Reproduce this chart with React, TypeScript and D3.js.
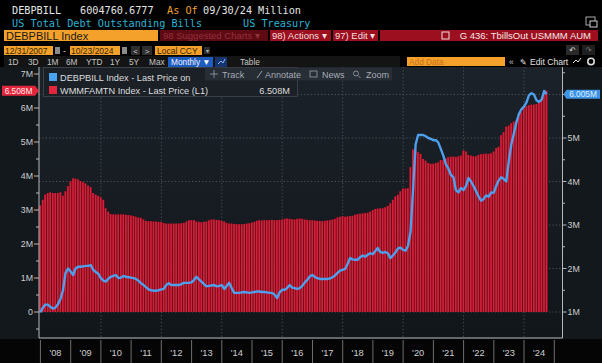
import React from "react";
import * as d3 from "d3";

// Monthly month-end values, Dec 2007 .. Sep 2024 (in millions, shown as M)
const billsOutstanding: number[] = [
  0.99,
  1.10, 1.17, 1.17, 1.12, 1.08, 1.10, 1.18, 1.30, 1.50, 1.90, 2.00, 1.93,
  1.85, 2.00, 2.04, 2.04, 2.05, 2.06, 2.06, 2.08, 1.97, 1.92, 1.88, 1.78,
  1.72, 1.70, 1.76, 1.81, 1.83, 1.85, 1.78, 1.79, 1.83, 1.81, 1.80, 1.79,
  1.78, 1.76, 1.72, 1.66, 1.62, 1.57, 1.52, 1.50, 1.49, 1.49, 1.50, 1.52,
  1.53, 1.62, 1.66, 1.62, 1.62, 1.62, 1.62, 1.64, 1.67, 1.67, 1.67, 1.68,
  1.74, 1.81, 1.75, 1.70, 1.64, 1.59, 1.60, 1.61, 1.62, 1.59, 1.60, 1.62,
  1.53, 1.60, 1.67, 1.55, 1.44, 1.44, 1.44, 1.45, 1.46, 1.45, 1.44, 1.45,
  1.46, 1.47, 1.47, 1.46, 1.46, 1.45, 1.44, 1.44, 1.40, 1.32, 1.45, 1.51,
  1.51, 1.55, 1.62, 1.56, 1.55, 1.53, 1.55, 1.60, 1.68, 1.74, 1.82, 1.85,
  1.80, 1.78, 1.76, 1.76, 1.76, 1.76, 1.77, 1.80, 1.84, 1.90, 1.95, 1.97,
  1.99, 2.10, 2.24, 2.21, 2.20, 2.20, 2.26, 2.30, 2.27, 2.32, 2.35, 2.33,
  2.40, 2.47, 2.38, 2.36, 2.38, 2.35, 2.24, 2.30, 2.37, 2.46, 2.48, 2.43,
  2.41, 2.52, 2.85, 3.80, 4.85, 5.07, 5.07, 5.07, 5.04, 5.00, 4.98, 4.95,
  4.95, 4.90, 4.75, 4.60, 4.40, 4.30, 4.15, 4.10, 3.80, 3.75, 3.85, 3.80,
  3.90, 4.08, 4.00, 3.90, 3.78, 3.66, 3.56, 3.60, 3.68, 3.65, 3.75, 3.74,
  3.90, 4.02, 4.10, 4.06, 4.00, 4.45, 4.85, 5.10, 5.35, 5.55, 5.66, 5.72,
  5.82, 5.98, 6.03, 6.00, 5.87, 5.83, 5.88, 6.08, 6.005,
];

const moneyFundAssets: number[] = [
  3.14,
  3.30, 3.45, 3.50, 3.52, 3.50, 3.50, 3.50, 3.52, 3.42, 3.55, 3.70, 3.85,
  3.93, 3.92, 3.90, 3.85, 3.82, 3.78, 3.72, 3.67, 3.50, 3.45, 3.42, 3.37,
  3.30, 3.05, 2.95, 2.88, 2.87, 2.87, 2.87, 2.87, 2.87, 2.86, 2.85, 2.84,
  2.82, 2.80, 2.78, 2.77, 2.72, 2.68, 2.67, 2.67, 2.66, 2.66, 2.65, 2.65,
  2.62, 2.60, 2.60, 2.60, 2.60, 2.60, 2.60, 2.61, 2.62, 2.66, 2.70, 2.70,
  2.70, 2.66, 2.65, 2.64, 2.65, 2.66, 2.70, 2.72, 2.72, 2.71, 2.70, 2.68,
  2.66, 2.62, 2.60, 2.60, 2.59, 2.58, 2.58, 2.58, 2.59, 2.60, 2.61, 2.63,
  2.65, 2.68, 2.70, 2.69, 2.70, 2.70, 2.70, 2.71, 2.70, 2.70, 2.71, 2.72,
  2.74, 2.75, 2.74, 2.73, 2.72, 2.74, 2.75, 2.74, 2.72, 2.71, 2.70, 2.70,
  2.69, 2.68, 2.68, 2.67, 2.68, 2.69, 2.70, 2.72, 2.74, 2.78, 2.80, 2.82,
  2.80, 2.81, 2.82, 2.83, 2.86, 2.88, 2.89, 2.90, 2.91, 2.92, 2.95, 3.00,
  3.03, 3.04, 3.05, 3.05, 3.08, 3.12, 3.20, 3.30, 3.40, 3.45, 3.55, 3.63,
  3.63, 3.64, 4.26, 4.78, 4.80, 4.70, 4.65, 4.50, 4.45, 4.38, 4.36, 4.36,
  4.38, 4.40, 4.47, 4.46, 4.52, 4.55, 4.57, 4.57, 4.56, 4.58, 4.60, 4.75,
  4.72, 4.62, 4.60, 4.58, 4.58, 4.62, 4.64, 4.65, 4.66, 4.65, 4.67, 4.72,
  4.82, 4.86, 5.20, 5.29, 5.45, 5.48, 5.55, 5.60, 5.63, 5.75, 5.87, 6.02,
  6.06, 6.08, 6.10, 6.10, 6.12, 6.15, 6.27, 6.45, 6.508,
];

const years: number[] = [2008, 2009, 2010, 2011, 2012, 2013, 2014, 2015, 2016, 2017, 2018, 2019, 2020, 2021, 2022, 2023, 2024];
const yearLabels: string[] = ["'08", "'09", "'10", "'11", "'12", "'13", "'14", "'15", "'16", "'17", "'18", "'19", "'20", "'21", "'22", "'23", "'24"];
const gridYears: number[] = [2010, 2012, 2014, 2016, 2018, 2020, 2022, 2024];
const leftTicks: number[] = [0, 1, 2, 3, 4, 5, 6, 7];
const leftTickLabels: string[] = ["0", "1M", "2M", "3M", "4M", "5M", "6M", "7M"];
const leftMinor: number[] = [-0.5, 0.5, 1.5, 2.5, 3.5, 4.5, 5.5, 6.5];
const rightTicks: number[] = [1, 2, 3, 4, 5, 6];
const rightLabelTicks: number[] = [1, 2, 3, 4, 5];
const rightTickLabels: string[] = ["1M", "2M", "3M", "4M", "5M"];
const rightMinor: number[] = [1.5, 2.5, 3.5, 4.5, 5.5, 6.5];
const rangeButtons: string[] = ["1D", "3D", "1M", "6M", "YTD", "1Y", "5Y", "Max"];

const W = 602;
const H = 363;
const PL = 39;
const PR = 562.5;
const PT = 67;
const PB = 338;

const MONO = "'DejaVu Sans Mono', monospace";
const SANS = "'Liberation Sans', Arial, sans-serif";
const ORANGE = "#f3a12a";
const BBRED = "#9b0f1f";

const monthEnd = (k: number) => new Date(2007, 12 + k, 0);

export default function App() {
  const x = d3.scaleTime().domain([new Date(2007, 11, 15), new Date(2025, 3, 10)]).range([PL, PR]);
  const yL = d3.scaleLinear().domain([0, 7]).range([312, 74]);
  const yR = d3.scaleLinear().domain([1, 6]).range([312, 94.5]);
  const bw = x(monthEnd(1)) - x(monthEnd(0));

  const line = d3
    .line<number>()
    .x((_, i) => x(monthEnd(i)))
    .y((v) => yR(v));

  const lastL = moneyFundAssets[moneyFundAssets.length - 1];
  const lastR = billsOutstanding[billsOutstanding.length - 1];
  const lyL = yL(lastL);
  const lyR = yR(lastR);

  const rangeX = [8, 28, 47, 66, 86, 110, 129, 149];

  return (
    <div style={{ position: "fixed", left: 0, top: 0, width: W, height: H, background: "#000" }}>
      <svg width={W} height={H} viewBox={`0 0 ${W} ${H}`} style={{ display: "block" }}>
        <defs>
          <linearGradient id="plotbg" x1="0" y1="0" x2="0" y2="1">
            <stop offset="0" stopColor="#1b2229" />
            <stop offset="1" stopColor="#11161b" />
          </linearGradient>
        </defs>
        <rect x={0} y={0} width={W} height={H} fill="#000" />

        {/* header rows 1-2 */}
        <g fontFamily={MONO} fontSize={10.2}>
          <text x={12} y={14} fill="#e4e4e4">DEBPBILL</text>
          <text x={80} y={14} fill="#e4e4e4">6004760.6777</text>
          <text x={167} y={14} fill="#f0a030">As Of</text>
          <text x={203} y={14} fill="#e4e4e4">09/30/24</text>
          <text x={258} y={14} fill="#e4e4e4">Million</text>
          <text x={12} y={27} fill="#2db3d6">US Total Debt Outstanding Bills</text>
          <text x={243} y={27} fill="#2db3d6">US Treasury</text>
        </g>
        <rect x={586} y={17} width={9} height={8} fill="none" stroke="#aaa" strokeWidth={1} />
        <rect x={590} y={21} width={7} height={6} fill="#000" stroke="#ccc" strokeWidth={1} />

        {/* header row 3 */}
        <rect x={4} y={30} width={154} height={11} fill={ORANGE} />
        <text x={6} y={39.5} fontFamily={SANS} fontSize={11} fill="#1a1a1a">DEBPBILL Index</text>
        <rect x={160} y={30} width={108} height={11} fill="#5e0a13" />
        <text x={163} y={39} fontFamily={SANS} fontSize={9.5} fill="#93303c">98 Suggested Charts ▾</text>
        <rect x={270} y={30} width={61} height={11} fill={BBRED} />
        <text x={272} y={39} fontFamily={SANS} fontSize={9.5} fill="#f2dede">98) Actions ▾</text>
        <rect x={333} y={30} width={45} height={11} fill={BBRED} />
        <text x={335} y={39} fontFamily={SANS} fontSize={9.5} fill="#f2dede">97) Edit ▾</text>
        <rect x={380} y={30} width={218} height={11} fill={BBRED} />
        <rect x={442} y={32} width={7} height={7} fill="none" stroke="#f2dede" strokeWidth={1} />
        <text x={591} y={39.3} textAnchor="end" fontFamily={SANS} fontSize={9.5} fill="#f6e6e6">G 436: TbillsOut USMMM AUM</text>

        {/* header row 4 */}
        <rect x={4} y={46} width={49} height={9} fill={ORANGE} />
        <text x={5} y={53.5} fontFamily={SANS} fontSize={8.5} fill="#3a2400">12/31/2007</text>
        <rect x={55} y={47} width={5} height={7} fill="#8a8a8a" />
        <text x={63} y={53.5} fontFamily={SANS} fontSize={8.5} fill="#cfcfcf">-</text>
        <rect x={70} y={46} width={50} height={9} fill={ORANGE} />
        <text x={71} y={53.5} fontFamily={SANS} fontSize={8.5} fill="#3a2400">10/23/2024</text>
        <rect x={122} y={47} width={5} height={7} fill="#8a8a8a" />
        <rect x={131} y={46} width={9} height={9} fill="#2e2e2e" />
        <text x={135.5} y={53.5} textAnchor="middle" fontFamily={SANS} fontSize={8} fill="#cfcfcf">&lt;</text>
        <rect x={142} y={46} width={10} height={9} fill="#2e2e2e" />
        <text x={147} y={53.5} textAnchor="middle" fontFamily={SANS} fontSize={8} fill="#cfcfcf">&gt;</text>
        <rect x={155} y={46} width={47} height={9} fill={ORANGE} />
        <text x={157} y={53.5} fontFamily={SANS} fontSize={8.5} fill="#3a2400">Local CCY</text>
        <rect x={204} y={47} width={6} height={7} fill="#2e2e2e" />
        <text x={207} y={53} textAnchor="middle" fontFamily={SANS} fontSize={6} fill="#bbb">▾</text>
        <rect x={566} y={45} width={13} height={10} fill="#2a2a2a" />
        <text x={572.5} y={53} textAnchor="middle" fontFamily="'DejaVu Sans'" fontSize={8} fill="#ddd">↶</text>
        <rect x={582} y={45} width={13} height={10} fill="#1e1e1e" />
        <text x={588.5} y={53} textAnchor="middle" fontFamily="'DejaVu Sans'" fontSize={8} fill="#777">↷</text>

        {/* header row 5 */}
        <rect x={4} y={56} width={396} height={11} fill="#141414" />
        {rangeButtons.map((b, i) => (
          <text key={b} x={rangeX[i]} y={64.5} fontFamily={SANS} fontSize={8.3} fill="#c4c4c4">{b}</text>
        ))}
        <rect x={168} y={57} width={45} height={10} fill="#1f5cc0" />
        <text x={171} y={64.8} fontFamily={SANS} fontSize={8.3} fill="#f0f4ff">Monthly ▼</text>
        <rect x={215} y={57} width={12} height={10} fill="#16356e" />
        <path d="M218,64 L221,61 L223,63 L225,59" fill="none" stroke="#8fb8ff" strokeWidth={1} />
        <text x={240} y={64.5} fontFamily={SANS} fontSize={8.3} fill="#c4c4c4">Table</text>
        <rect x={407} y={57} width={98} height={9} fill={ORANGE} />
        <text x={409} y={64.5} fontFamily={SANS} fontSize={8.3} fill="#c9701a">Add Data</text>
        <text x={509} y={64.5} fontFamily={SANS} fontSize={8.5} fill="#c4c4c4">«</text>
        <text x={520} y={64.8} fontFamily="'DejaVu Sans'" fontSize={8} fill="#e0e0e0">✎</text>
        <text x={530} y={64.8} fontFamily={SANS} fontSize={8.6} fill="#e0e0e0">Edit Chart</text>
        <path d="M573,63 L576,60 L578,62 L581,58" fill="none" stroke="#ddd" strokeWidth={1} />
        <circle cx={591} cy={61.5} r={3.2} fill="none" stroke="#ddd" strokeWidth={1.6} />

        {/* chart background */}
        <rect x={0} y={PT} width={W} height={PB - PT + 2} fill="#13181d" />
        <rect x={PL} y={PT} width={PR - PL} height={PB - PT} fill="url(#plotbg)" />

        {/* grid */}
        <g stroke="#5a6068" strokeWidth={0.8} strokeDasharray="1.2,2.2">
          {rightTicks.map((t) => (
            <line key={"hg" + t} x1={PL} x2={PR} y1={yR(t)} y2={yR(t)} />
          ))}
          {gridYears.map((yy) => (
            <line key={"vg" + yy} x1={x(new Date(yy, 0, 1))} x2={x(new Date(yy, 0, 1))} y1={PT} y2={PB} />
          ))}
        </g>

        {/* bars */}
        <g>
          {moneyFundAssets.map((v, i) => {
            const cx = x(monthEnd(i));
            return (
              <g key={"b" + i}>
                <rect x={cx - bw / 2} y={yL(v)} width={bw} height={yL(0) - yL(v)} fill="#6a0c18" />
                <rect x={cx - bw / 2 + 0.3} y={yL(v)} width={bw - 0.9} height={yL(0) - yL(v)} fill="#d2213a" />
              </g>
            );
          })}
        </g>

        {/* line */}
        <path d={line(billsOutstanding) || ""} fill="none" stroke="#4e9fec" strokeWidth={2.4} strokeLinejoin="round" />

        {/* axes */}
        <g stroke="#b8b8b8" strokeWidth={1}>
          <line x1={PL} x2={PL} y1={PT} y2={PB} />
          <line x1={PR} x2={PR} y1={PT} y2={PB} />
          <line x1={PL} x2={PR} y1={PB} y2={PB} />
          {leftTicks.map((t) => (
            <line key={"lt" + t} x1={PL - 5} x2={PL} y1={yL(t)} y2={yL(t)} />
          ))}
          {leftMinor.map((t) => (
            <line key={"lm" + t} x1={PL - 3} x2={PL} y1={yL(t)} y2={yL(t)} />
          ))}
          {rightTicks.map((t) => (
            <line key={"rt" + t} x1={PR} x2={PR + 4} y1={yR(t)} y2={yR(t)} />
          ))}
          {rightMinor.map((t) => (
            <line key={"rm" + t} x1={PR} x2={PR + 2.5} y1={yR(t)} y2={yR(t)} />
          ))}
        </g>
        <g fontFamily={SANS} fontSize={8.8} fill="#cdcdcd">
          {leftTicks.map((t, i) => (
            <text key={"ll" + t} x={PL - 6} y={yL(t) + 3} textAnchor="end">{leftTickLabels[i]}</text>
          ))}
          {rightLabelTicks.map((t, i) => (
            <text key={"rl" + t} x={PR + 5} y={yR(t) + 3}>{rightTickLabels[i]}</text>
          ))}
        </g>

        {/* x axis label row */}
        <rect x={0} y={PB + 1} width={W} height={H - PB - 1} fill="#050505" />
        <g stroke="#6e6e6e" strokeWidth={1}>
          {years.concat([2025]).map((yy) => (
            <line key={"sep" + yy} x1={x(new Date(yy, 0, 1))} x2={x(new Date(yy, 0, 1))} y1={PB + 2} y2={H} />
          ))}
        </g>
        <g fontFamily={SANS} fontSize={9.3} fill="#cfcfcf" textAnchor="middle">
          {years.map((yy, i) => (
            <text key={"yl" + yy} x={x(new Date(yy, 6, 1))} y={356}>{yearLabels[i]}</text>
          ))}
        </g>

        {/* last value labels */}
        <path d={`M2,${lyL - 5} H35 L${PL},${lyL} L35,${lyL + 5} H2 Z`} fill="#e3263c" />
        <text x={18.5} y={lyL + 3} textAnchor="middle" fontFamily={SANS} fontSize={8.3} fill="#ffe9ec">6.508M</text>
        <path d={`M${PR + 4},${lyR - 4.5} H600 V${lyR + 4.5} H${PR + 4} L${PR + 1},${lyR} Z`} fill="#3f93e4" />
        <text x={583} y={lyR + 3} textAnchor="middle" fontFamily={SANS} fontSize={8.3} fill="#dcefff">6.005M</text>

        {/* legend */}
        <rect x={43.5} y={67.5} width={254} height={29} fill="#1b2026" fillOpacity={0.94} stroke="#3a4048" strokeWidth={1} />
        <rect x={49} y={73} width={8} height={8} fill="#4aa3ee" />
        <rect x={49} y={86} width={8} height={8} fill="#e3263c" />
        <g fontFamily={SANS} fontSize={9.2} fill="#dedede">
          <text x={60} y={80.5}>DEBPBILL Index - Last Price on</text>
          <text x={60} y={93.5}>WMMFAMTN Index - Last Price (L1)</text>
          <text x={290} y={93.5} textAnchor="end">6.508M</text>
        </g>

        {/* floating toolbar */}
        <rect x={205} y={67.5} width={187} height={13} fill="#2a3038" fillOpacity={0.85} />
        <g fontFamily={SANS} fontSize={9} fill="#b9bec4" fillOpacity={0.9}>
          <path d="M214,70 V78 M210,74 H218" stroke="#9aa0a6" strokeWidth={0.8} />
          <text x={222} y={77.5}>Track</text>
          <path d="M257,78 L262,71" stroke="#9aa0a6" strokeWidth={1} />
          <text x={265} y={77.5}>Annotate</text>
          <rect x={310} y={71} width={7} height={6} fill="none" stroke="#9aa0a6" strokeWidth={0.8} />
          <text x={322} y={77.5}>News</text>
          <circle cx={356} cy={73.5} r={2.5} fill="none" stroke="#9aa0a6" strokeWidth={0.8} />
          <path d="M358,75.5 L360.5,78" stroke="#9aa0a6" strokeWidth={0.8} />
          <text x={366} y={77.5}>Zoom</text>
        </g>
      </svg>
    </div>
  );
}
